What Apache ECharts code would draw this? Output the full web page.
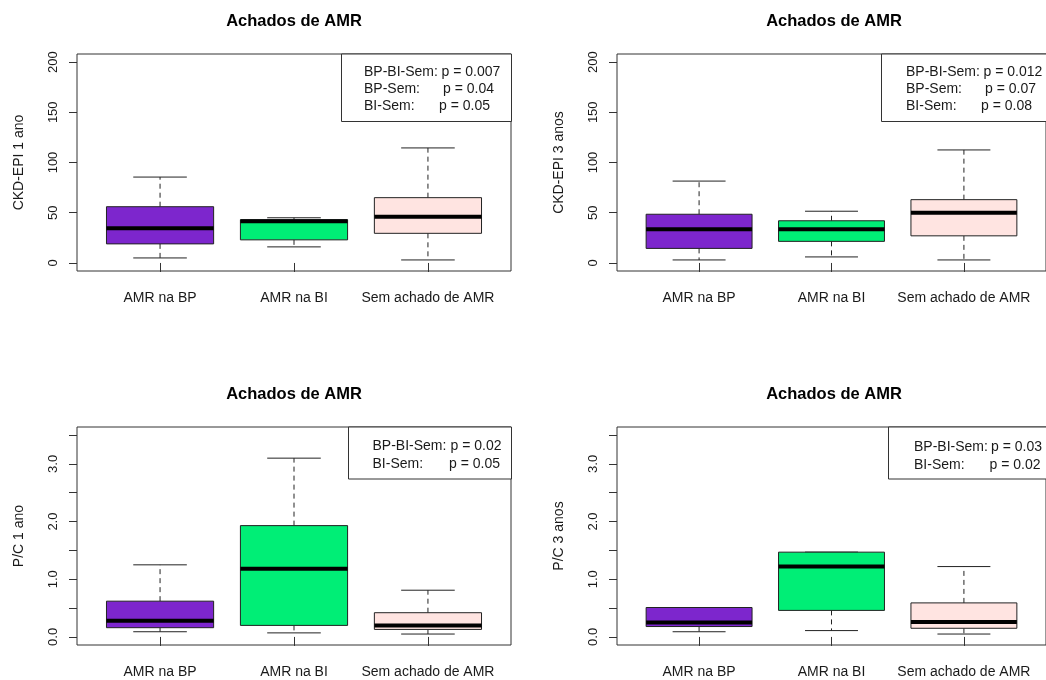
<!DOCTYPE html>
<html><head><meta charset="utf-8">
<script src="https://cdn.jsdelivr.net/npm/echarts@6/dist/echarts.min.js"></script>
<style>html,body{margin:0;padding:0;background:#fff}#c{width:1046px;height:680px}</style>
</head><body><div id="c"></div>
<script>
// ---- data ----
const categories = ['AMR na BP', 'AMR na BI', 'Sem achado de AMR'];
// each item: [min, Q1, median, Q3, max]
const ckdEpi1 = [[5, 19, 34.5, 56, 85.5], [16, 23, 41.5, 43, 45], [3, 29.5, 46, 65, 114.5]];
const ckdEpi3 = [[3, 14.5, 33.5, 48.5, 81.5], [6, 21.5, 33.5, 42, 51.5], [3, 27, 50, 63, 112.5]];
const pc1 = [[0.09, 0.16, 0.28, 0.62, 1.25], [0.07, 0.2, 1.18, 1.93, 3.1], [0.05, 0.13, 0.2, 0.42, 0.81]];
const pc3 = [[0.09, 0.18, 0.25, 0.51, 0.51], [0.11, 0.46, 1.22, 1.47, 1.47], [0.05, 0.15, 0.26, 0.59, 1.22]];
const ckdTicks = [0, 50, 100, 150, 200];
const pcTicks = [0, 0.5, 1, 1.5, 2, 2.5, 3, 3.5];
const pcLabels = [0, 1, 2, 3];
const legend1 = [['BP-BI-Sem:', 'p = 0.007'], ['BP-Sem:', 'p = 0.04'], ['BI-Sem:', 'p = 0.05']];
const legend2 = [['BP-BI-Sem:', 'p = 0.012'], ['BP-Sem:', 'p = 0.07'], ['BI-Sem:', 'p = 0.08']];
const legend3 = [['BP-BI-Sem:', 'p = 0.02'], ['BI-Sem:', 'p = 0.05']];
const legend4 = [['BP-BI-Sem:', 'p = 0.03'], ['BI-Sem:', 'p = 0.02']];
const titleText = 'Achados de AMR';

// ---- styles / layout ----
const boxColors = ['#7D26CD', '#00EE76', '#FFE4E1'];
const FONT = "'Liberation Sans', Arial, sans-serif";
const INK = '#1a1a1a';

const panels = [
  {data: ckdEpi1, yName: 'CKD-EPI 1 ano', left: 77, top: 54, height: 217, yMin: -8, yMax: 208, ticks: ckdTicks, labels: ckdTicks, dec: 0,
   legend: legend1, box: [341.5, 54, 170, 67.5], tx: 364, px: [441.5, 443, 439], ly: [72.5, 89.3, 106]},
  {data: ckdEpi3, yName: 'CKD-EPI 3 anos', left: 617, top: 54, height: 217, yMin: -8, yMax: 208, ticks: ckdTicks, labels: ckdTicks, dec: 0,
   legend: legend2, box: [881.5, 54, 200, 67.5], tx: 906, px: [983.5, 985, 981], ly: [72.5, 89.3, 106]},
  {data: pc1, yName: 'P/C 1 ano', left: 77, top: 427, height: 218, yMin: -0.14, yMax: 3.64, ticks: pcTicks, labels: pcLabels, dec: 1,
   legend: legend3, box: [348.5, 427, 163, 52], tx: 372.5, px: [450.5, 449], ly: [446, 464]},
  {data: pc3, yName: 'P/C 3 anos', left: 617, top: 427, height: 218, yMin: -0.14, yMax: 3.64, ticks: pcTicks, labels: pcLabels, dec: 1,
   legend: legend4, box: [888.5, 427, 200, 52], tx: 914, px: [991, 989.5], ly: [447, 465]}
];
const PW = 434;

function renderBox(params, api) {
  const x = api.value(0);
  const mn = api.value(1), q1 = api.value(2), md = api.value(3), q3 = api.value(4), mx = api.value(5);
  const xc = api.coord([x, md])[0];
  const y = v => api.coord([x, v])[1];
  const bw = api.size([0.8, 0])[0];
  const cw = bw / 2;
  const col = boxColors[params.dataIndex];
  const dash = {stroke: '#222', lineWidth: 1, lineDash: [5, 4], fill: null};
  const solid = {stroke: '#222', lineWidth: 1, fill: null};
  return {type: 'group', children: [
    {type: 'line', shape: {x1: xc, y1: y(q3), x2: xc, y2: y(mx)}, style: dash},
    {type: 'line', shape: {x1: xc, y1: y(q1), x2: xc, y2: y(mn)}, style: dash},
    {type: 'line', shape: {x1: xc - cw / 2, y1: y(mx), x2: xc + cw / 2, y2: y(mx)}, style: solid},
    {type: 'line', shape: {x1: xc - cw / 2, y1: y(mn), x2: xc + cw / 2, y2: y(mn)}, style: solid},
    {type: 'rect', shape: {x: xc - bw / 2, y: y(q3), width: bw, height: y(q1) - y(q3)}, style: {fill: col, stroke: '#222', lineWidth: 1}},
    {type: 'line', shape: {x1: xc - bw / 2, y1: y(md), x2: xc + bw / 2, y2: y(md)}, style: {stroke: '#000', lineWidth: 4}}
  ]};
}

const grid = [], xAxis = [], yAxis = [], series = [], title = [], graphic = [];
panels.forEach((p, i) => {
  grid.push({left: p.left, top: p.top, width: PW, height: p.height, show: true, borderColor: '#333', borderWidth: 1, backgroundColor: 'transparent'});
  xAxis.push({type: 'value', gridIndex: i, min: 0.38, max: 3.62,
    splitLine: {show: false}, axisLine: {show: false},
    axisTick: {show: true, length: 9, lineStyle: {color: '#333'}, customValues: [1, 2, 3]},
    axisLabel: {customValues: [1, 2, 3], formatter: v => categories[Math.round(v) - 1], margin: 20, fontSize: 14, color: INK, fontFamily: FONT}});
  yAxis.push({type: 'value', gridIndex: i, min: p.yMin, max: p.yMax,
    splitLine: {show: false}, axisLine: {show: false},
    axisTick: {show: true, length: 8, lineStyle: {color: '#333'}, customValues: p.ticks},
    axisLabel: {customValues: p.labels, rotate: 90, margin: 17, fontSize: 13, color: INK, fontFamily: FONT,
      formatter: v => Number(v).toFixed(p.dec)},
    name: p.yName, nameLocation: 'middle', nameGap: 51, nameRotate: 90,
    nameTextStyle: {fontSize: 14, color: INK, fontFamily: FONT}});
  series.push({type: 'custom', xAxisIndex: i, yAxisIndex: i, renderItem: renderBox,
    encode: {x: 0, y: [1, 2, 3, 4, 5]},
    data: p.data.map((d, k) => [k + 1].concat(d))});
  title.push({text: titleText, left: p.left + PW / 2, top: p.top - 41, textAlign: 'center', padding: 0,
    textStyle: {fontSize: 16.5, fontWeight: 'bold', color: '#000', fontFamily: FONT}});
  graphic.push({type: 'rect', z: 10, shape: {x: p.box[0], y: p.box[1], width: p.box[2], height: p.box[3]},
    style: {fill: '#fff', stroke: '#333', lineWidth: 1}});
  p.legend.forEach((row, r) => {
    graphic.push({type: 'text', z: 11, x: p.tx, y: p.ly[r], style: {text: row[0], font: '14px ' + FONT, fill: INK, verticalAlign: 'middle', textVerticalAlign: 'middle'}});
    graphic.push({type: 'text', z: 11, x: p.px[r], y: p.ly[r], style: {text: row[1], font: '14px ' + FONT, fill: INK, verticalAlign: 'middle', textVerticalAlign: 'middle'}});
  });
});

const chart = echarts.init(document.getElementById('c'), null, {renderer: 'canvas'});
chart.setOption({backgroundColor: '#fff', animation: false, title, grid, xAxis, yAxis, series, graphic});
</script>
</body></html>
